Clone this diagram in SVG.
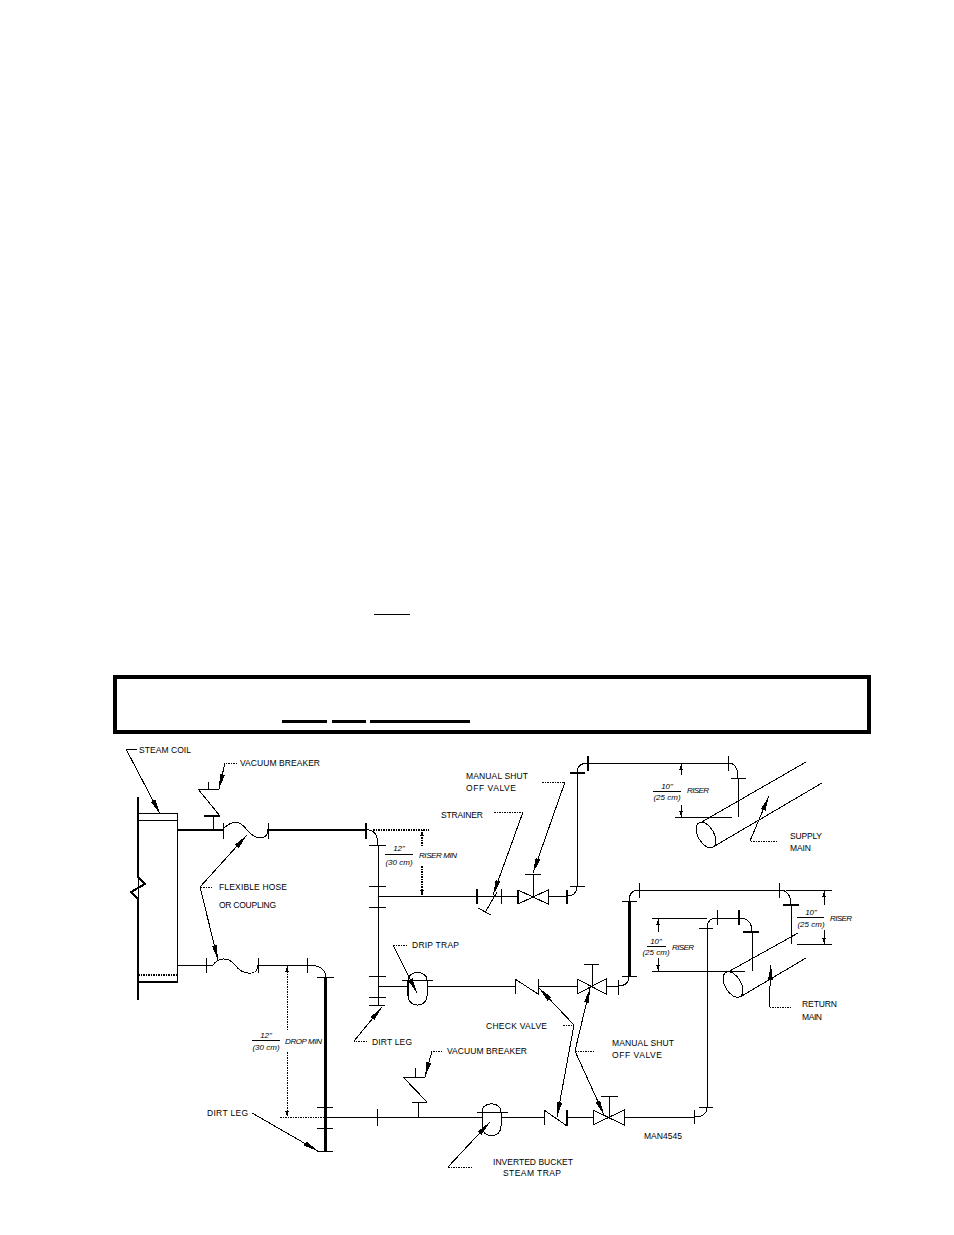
<svg xmlns="http://www.w3.org/2000/svg" width="954" height="1235" viewBox="0 0 954 1235">
<style>
.p{fill:none;stroke:#000;stroke-width:1}
.t{fill:none;stroke:#000;stroke-width:3}
.m{fill:none;stroke:#000;stroke-width:2}
.d{fill:none;stroke:#000;stroke-width:1;stroke-dasharray:1.5 1}
.dt{fill:none;stroke:#000;stroke-width:2;stroke-dasharray:1.5 1}
.l{fill:none;stroke:#000;stroke-width:1}
.a{marker-end:url(#ah)}
.s{marker-end:url(#sh)}
text{font-family:"Liberation Sans",Arial,sans-serif;font-size:8.5px;fill:#000}
.i{font-style:italic;font-size:8px}
.c{text-anchor:middle}
line,path,rect,ellipse{shape-rendering:crispEdges}
</style>
<defs>
<marker id="ah" viewBox="0 0 15 6" refX="15" refY="3" markerWidth="15" markerHeight="6" markerUnits="userSpaceOnUse" orient="auto"><path d="M0,0.5 L15,3 L0,5.5 Z" fill="#000" shape-rendering="auto"/></marker>
<marker id="sh" viewBox="0 0 6 4" refX="6" refY="2" markerWidth="6" markerHeight="4" markerUnits="userSpaceOnUse" orient="auto"><path d="M0,0.2 L6,2 L0,3.8 Z" fill="#000" shape-rendering="auto"/></marker>
</defs>
<rect width="954" height="1235" fill="#fff"/>
<g id="page-rules">
<line x1="374" y1="614.5" x2="410" y2="614.5" stroke="#000" stroke-width="1.5"/>
<rect x="114.5" y="676.5" width="754" height="55" fill="none" stroke="#000" stroke-width="4"/>
<line x1="282" y1="721.5" x2="327" y2="721.5" stroke="#000" stroke-width="2.4"/>
<line x1="332" y1="721.5" x2="366" y2="721.5" stroke="#000" stroke-width="2.4"/>
<line x1="370" y1="721.5" x2="470" y2="721.5" stroke="#000" stroke-width="2.4"/>
</g>
<g id="connectors">
<path class="l" d="M177,965H206"/>
<path class="m" d="M177,829.5H223M268,829.5H366"/>
<path class="p" d="M366,829.5Q378,830 378,845V1005"/>
<path class="p" d="M378,896H518M548,896H567Q577,896 577,886V773Q577,763 588,763H728Q738,763 738,778V817"/>
<path class="p" d="M378,986H408M427,986H515M538,986H577M606,986H618Q629,986 629,976"/>
<path class="t" d="M629,976V901"/>
<path class="p" d="M629,901Q629,890 639,890H779Q791,890 791,905V944"/>
<path class="p" d="M258,965H307Q325,965 326,977"/>
<path class="t" d="M325,977V1151"/>
<path class="p" d="M325,1117H482M501,1117H544M567,1117H593M624,1117H694Q707,1117 707,1107V928Q707,918 717,918H739Q752,918 752,932V971"/>
<g id="leaders">
<path class="l a" d="M137,749H126L160,814"/>
<path class="d" d="M237,763H225"/><path class="l a" d="M225,763L219,789"/>
<path class="d" d="M212,887H200"/><path class="l a" d="M200,887L247,835"/><path class="l a" d="M200,887L218,960"/>
<path class="d" d="M542,782H565"/><path class="l a" d="M565,782L533,873"/>
<path class="d" d="M494,812H523"/><path class="l a" d="M523,812L493,895"/>
<path class="d" d="M407,945H393"/><path class="l a" d="M393,945L417,993"/>
<path class="d" d="M367,1041H354"/><path class="l a" d="M354,1041L382,1007"/>
<path class="l a" d="M252,1113L318,1151"/>
<path class="d" d="M442,1051H432"/><path class="l a" d="M432,1051L425,1077"/>
<path class="d" d="M472,1167H448"/><path class="l a" d="M448,1167L490,1122"/>
<path class="d" d="M563,1025H574"/><path class="l a" d="M574,1025L539,988"/><path class="l a" d="M574,1025L557,1117"/>
<path class="d" d="M594,1051H575"/><path class="l a" d="M575,1051L590,988"/><path class="l a" d="M575,1051L604,1115"/>
<path class="d" d="M777,841H750"/><path class="l a" d="M750,841L769,796"/>
<path class="d" d="M791,1007H769"/><path class="l a" d="M769,1007L771,965"/>
</g>
<g id="dimensions">
<path class="dt" d="M373,829.5H429"/>
<path class="dt s" d="M422,846V830"/><path class="dt s" d="M422,866V896"/>
<path class="l" d="M385,854H413"/>
<path class="d s" d="M287,1030V966"/><path class="d s" d="M287,1052V1117"/>
<path class="d" d="M280,1117H325"/>
<path class="l" d="M252,1040H280"/>
<path class="l s" d="M681,775V764"/><path class="l s" d="M681,805V817"/>
<path class="l" d="M675,817H732"/><path class="l" d="M653,791H681"/>
<path class="l" d="M652,918H707M652,971H745"/>
<path class="l s" d="M658,932V919"/><path class="l s" d="M658,958V971"/>
<path class="l" d="M647,946H666"/>
<path class="l" d="M786,890H832M797,944H832"/>
<path class="l s" d="M824,905V891"/><path class="l s" d="M824,930V944"/>
<path class="l" d="M797,917H824"/>
</g>
</g>
<g id="steam-coil">
<path class="m" d="M138,797V877L145,884L131,892L138,899V1000"/>
<rect class="l" x="138" y="813" width="39" height="169"/>
<path class="l" d="M138,820H177"/>
<path class="dt" d="M138,975H177"/>
<path class="m" d="M138,982H177"/>
</g>
<g id="vacuum-breaker-1">
<path class="p" d="M213,829V816"/><path class="m" d="M204,816H220"/>
<path class="p" d="M220,816L198,789H219M208,782V789"/>
</g>
<g id="flex-hose-1">
<path class="p" d="M223,823V839M268,823V839"/>
<path class="p" d="M223,829C232,820 240,820 247,830C255,840 268,841 268,829"/>
<path class="m" d="M366,823V839"/>
</g>
<g id="flex-hose-2">
<path class="p" d="M206,958V973M258,958V973M307,958V973"/>
<path class="p" d="M206,965H213C218,958 228,956 235,965C243,976 258,976 258,965"/>
</g>
<g id="flanges">
<path class="p" d="M369,845H386M369,886H386M369,907H386M369,976H386M369,997H386M369,1005H385"/>
<path class="p" d="M317,977H334M317,1107H333M317,1128H333M317,1151H333"/>
<path class="p" d="M377,1109V1126"/>
<path class="m" d="M477,889V904M567,890V904M588,756V771"/>
<path class="m" d="M570,773H585"/>
<path class="p" d="M570,886H585M731,778H746M728,756V771"/>
<path class="p" d="M639,883V898M779,883V898M622,901H637M622,976H637M618,980V995"/>
<path class="m" d="M739,910V925M783,905H799M743,932H759"/>
<path class="p" d="M717,910V925M699,928H713M699,1107H713M694,1110V1124"/>
</g>
<g id="strainer">
<path class="p" d="M501,889V904M486,911L497,892M478,908L491,915"/>
</g>
<g id="manual-valve-supply">
<path class="p" d="M518,890V904L548,890V904L518,890"/>
<path class="m" d="M518,890V904"/>
<path class="p" d="M533,897V874M525,874H541"/>
</g>
<g id="check-valve-return">
<path class="p" d="M515,994V979L538,994V979"/>
</g>
<g id="manual-valve-return">
<path class="p" d="M577,979V994L606,979V994L577,979"/>
<path class="p" d="M592,986V964M584,964H599"/>
</g>
<g id="drip-trap">
<path class="p" d="M402,980H433"/>
<path class="p" d="M408,980C408,970 427,970 427,980V996C427,1008 408,1008 408,996Z"/>
<path class="m" d="M408,980V996"/>
</g>
<g id="vacuum-breaker-2">
<path class="p" d="M418,1117V1102M412,1102H427M427,1102L403,1077H425M415,1068V1077"/>
</g>
<g id="bucket-trap">
<path class="p" d="M477,1112H508"/>
<path class="p" d="M482,1112C482,1101 501,1101 501,1112V1126C501,1139 482,1139 482,1126Z"/>
</g>
<g id="check-valve-bottom">
<path class="p" d="M544,1125V1110L567,1126"/>
<path class="m" d="M567,1110V1126"/>
</g>
<g id="manual-valve-bottom">
<path class="p" d="M593,1110V1125L624,1110V1125L593,1110"/>
<path class="p" d="M609,1118V1096M601,1096H618"/>
</g>
<g id="supply-main">
<path class="p" d="M700,823L806,762M713,847L822,783"/>
<ellipse class="p" cx="706" cy="835" rx="14" ry="8" transform="rotate(60 706 835)"/>
</g>
<g id="return-main">
<path class="p" d="M728,972L798,933M740,997L806,958"/>
<ellipse class="p" cx="733" cy="984.5" rx="14" ry="8" transform="rotate(60 733 984.5)"/>
</g>
<g id="labels">
<text x="139" y="753" textLength="52">STEAM COIL</text>
<text x="240" y="766" textLength="80">VACUUM BREAKER</text>
<text x="219" y="890" textLength="68">FLEXIBLE HOSE</text>
<text x="219" y="908" textLength="57">OR COUPLING</text>
<text x="466" y="779" textLength="62">MANUAL SHUT</text>
<text x="466" y="791" textLength="50">OFF VALVE</text>
<text x="441" y="818" textLength="42">STRAINER</text>
<text x="412" y="948" textLength="47">DRIP TRAP</text>
<text x="372" y="1045" textLength="40">DIRT LEG</text>
<text x="207" y="1116" textLength="41">DIRT LEG</text>
<text x="447" y="1054" textLength="80">VACUUM BREAKER</text>
<text x="486" y="1029" textLength="61">CHECK VALVE</text>
<text x="612" y="1046" textLength="62">MANUAL SHUT</text>
<text x="612" y="1058" textLength="50">OFF VALVE</text>
<text x="644" y="1139" textLength="38">MAN4545</text>
<text x="493" y="1165" textLength="80">INVERTED BUCKET</text>
<text x="503" y="1176" textLength="58">STEAM TRAP</text>
<text x="790" y="839" textLength="32">SUPPLY</text>
<text x="790" y="851" textLength="21">MAIN</text>
<text x="802" y="1007" textLength="35">RETURN</text>
<text x="802" y="1020" textLength="20">MAIN</text>
<text class="i c" x="399" y="851">12"</text>
<text class="i c" x="399" y="865">(30 cm)</text>
<text class="i" x="419" y="858" textLength="38">RISER MIN</text>
<text class="i c" x="266" y="1038">12"</text>
<text class="i c" x="266" y="1050">(30 cm)</text>
<text class="i" x="285" y="1044" textLength="37">DROP MIN</text>
<text class="i c" x="667" y="789">10"</text>
<text class="i c" x="667" y="800">(25 cm)</text>
<text class="i" x="687" y="793" textLength="22">RISER</text>
<text class="i c" x="656" y="944">10"</text>
<text class="i c" x="656" y="955">(25 cm)</text>
<text class="i" x="672" y="950" textLength="22">RISER</text>
<text class="i c" x="811" y="915">10"</text>
<text class="i c" x="811" y="927">(25 cm)</text>
<text class="i" x="830" y="921" textLength="22">RISER</text>
</g>
</svg>
